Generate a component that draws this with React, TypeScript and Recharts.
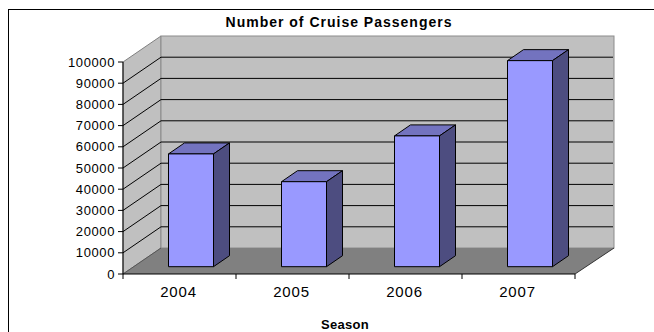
import { BarChart, Bar, XAxis, YAxis, CartesianGrid } from "recharts";

const seasons = ["2004", "2005", "2006", "2007"];
const passengers = [53200, 40100, 61700, 97200];
const yTicks = [0, 10000, 20000, 30000, 40000, 50000, 60000, 70000, 80000, 90000, 100000];

const data = seasons.map((season, i) => ({ season, passengers: passengers[i] }));

// oblique offset of the back wall, and of the bars inside the box
const WALL_DX = 38;
const WALL_DY = 26;
const BAR_SHIFT_X = 11.5;
const BAR_SHIFT_Y = 7.3;
const BAR_DX = 16;
const BAR_DY = 11;

const FONT = "'Liberation Sans', Arial, sans-serif";

function Walls(props: any) {
  const { x, y, width, height, y1, index } = props;
  const bottom = y + height;
  const isEdge = Math.abs(y1 - bottom) < 0.5 || Math.abs(y1 - y) < 0.5;
  return (
    <g>
      {index === 0 && (
        <g>
          <polygon
            points={`${x},${bottom} ${x},${y} ${x + WALL_DX},${y - WALL_DY} ${x + WALL_DX},${bottom - WALL_DY}`}
            fill="#c0c0c0"
            stroke="#808080"
          />
          <rect x={x + WALL_DX} y={y - WALL_DY} width={width + 1} height={height} fill="#c0c0c0" stroke="#8c8c8c" />
          <polygon
            points={`${x},${bottom} ${x + width},${bottom} ${x + width + WALL_DX + 1},${bottom - WALL_DY} ${x + WALL_DX},${bottom - WALL_DY}`}
            fill="#808080"
          />
          <line x1={x + width} y1={bottom} x2={x + width + WALL_DX + 1} y2={bottom - WALL_DY} stroke="#333" />
          <line x1={x} y1={bottom} x2={x + WALL_DX} y2={bottom - WALL_DY} stroke="#555" />
        </g>
      )}
      {!isEdge && (
        <g>
          <line x1={x} y1={y1} x2={x + WALL_DX} y2={y1 - WALL_DY} stroke="#000" />
          <line x1={x + WALL_DX} y1={y1 - WALL_DY} x2={x + width + WALL_DX} y2={y1 - WALL_DY} stroke="#000" />
        </g>
      )}
    </g>
  );
}

function Bar3D(props: any) {
  const { x, y, width, height } = props;
  const fx = x + BAR_SHIFT_X;
  const fy = y - BAR_SHIFT_Y;
  return (
    <g stroke="#000" strokeWidth={1} strokeLinejoin="round">
      <polygon
        points={`${fx},${fy} ${fx + BAR_DX},${fy - BAR_DY} ${fx + width + BAR_DX},${fy - BAR_DY} ${fx + width},${fy}`}
        fill="#7373bf"
      />
      <polygon
        points={`${fx + width},${fy} ${fx + width + BAR_DX},${fy - BAR_DY} ${fx + width + BAR_DX},${fy + height - BAR_DY} ${fx + width},${fy + height}`}
        fill="#4d4d80"
      />
      <rect x={fx} y={fy} width={width} height={height} fill="#9999ff" />
    </g>
  );
}

function SeasonTick(props: any) {
  const { x, y, payload, index, visibleTicksCount } = props;
  const half = 452 / seasons.length / 2;
  const axisY = y - 8;
  return (
    <g>
      <line x1={x - half} y1={axisY} x2={x - half} y2={axisY + 5} stroke="#000" />
      {index === visibleTicksCount - 1 && (
        <line x1={x + half} y1={axisY} x2={x + half} y2={axisY + 5} stroke="#000" />
      )}
      <text x={x - 1} y={y + 15} textAnchor="middle" fontSize={15} fontFamily={FONT} fill="#000" letterSpacing={0.8}>
        {payload.value}
      </text>
    </g>
  );
}

export default function App() {
  return (
    <div style={{ position: "fixed", left: 0, top: 0, width: 654, height: 332, overflow: "hidden", background: "#fff" }}>
      <div
        style={{
          position: "absolute",
          left: 8,
          top: 9,
          width: 700,
          height: 400,
          borderLeft: "1px solid #000",
          borderTop: "1px solid #000",
        }}
      />
      <div
        style={{
          position: "absolute",
          left: 0,
          top: 14,
          width: 678,
          textAlign: "center",
          fontFamily: FONT,
          fontWeight: "bold",
          fontSize: 14,
          lineHeight: "16px",
          letterSpacing: 1,
        }}
      >
        Number of Cruise Passengers
      </div>
      <div style={{ position: "absolute", left: 0, top: 0 }}>
        <BarChart width={654} height={332} data={data} margin={{ top: 62, right: 79, bottom: 0, left: 0 }} barSize={45}>
          <CartesianGrid vertical={false} horizontal={Walls} />
          <XAxis
            dataKey="season"
            height={58}
            axisLine={{ stroke: "#000" }}
            tickLine={false}
            tickSize={6}
            tickMargin={2}
            tick={SeasonTick}
            interval={0}
            label={{
              value: "Season",
              position: "insideBottom",
              offset: 3,
              dx: -4,
              style: { fontFamily: FONT, fontWeight: "bold", fontSize: 13, fill: "#000", letterSpacing: 0.3 },
            }}
          />
          <YAxis
            width={123}
            domain={[0, 100000]}
            ticks={yTicks}
            interval={0}
            axisLine={{ stroke: "#000" }}
            tickLine={{ stroke: "#000" }}
            tickSize={5}
            tickMargin={3}
            tick={{ fontSize: 13, fontFamily: FONT, fill: "#000", letterSpacing: 0.6 }}
          />
          <Bar dataKey="passengers" shape={Bar3D} isAnimationActive={false} />
        </BarChart>
      </div>
    </div>
  );
}
